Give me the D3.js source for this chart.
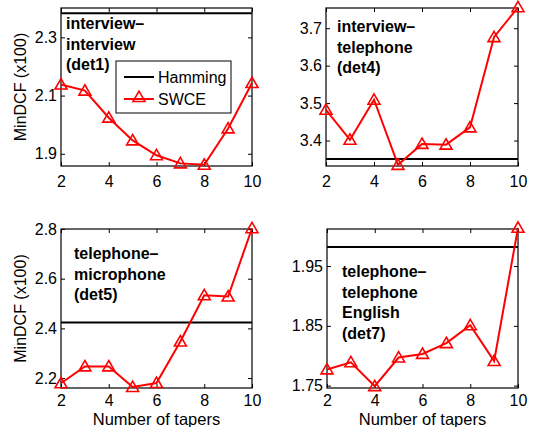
<!DOCTYPE html>
<html><head><meta charset="utf-8">
<script src="https://cdn.jsdelivr.net/npm/d3@7"></script>
<style>body{margin:0;background:#fff}svg{display:block}text{font-family:"Liberation Sans",Arial,sans-serif}</style>
</head><body><svg id="c" width="536" height="427"></svg>
<script>
const tapers = [2,3,4,5,6,7,8,9,10];
const xTicks = [2,4,6,8,10];
const det1 = [2.138,2.117,2.024,1.946,1.895,1.867,1.862,1.987,2.143];
const det4 = [3.482,3.402,3.509,3.335,3.391,3.389,3.435,3.676,3.756];
const det5 = [2.179,2.247,2.247,2.164,2.180,2.347,2.533,2.528,2.803];
const det7 = [1.777,1.789,1.749,1.797,1.803,1.821,1.851,1.791,2.014];
const hamming = [2.383,3.351,2.424,1.982];
const yDomains = [[1.858,2.401],[3.332,3.754],[2.16,2.80],[1.746,2.012]];
const yTicks = [[1.9,2.1,2.3],[3.4,3.5,3.6,3.7],[2.2,2.4,2.6,2.8],[1.75,1.85,1.95]];
const yFormats = [".1f",".1f",".1f",".2f"];
const labels = [["interview\u2013","interview","(det1)"],["interview\u2013","telephone","(det4)"],["telephone\u2013","microphone","(det5)"],["telephone\u2013","telephone","English","(det7)"]];
const series = [det1,det4,det5,det7];
const legendNames = ["Hamming","SWCE"];

const svg = d3.select("#c");
const boxes = [
  {x0:61,x1:252,y0:8,y1:166, tx:66, ty:29, showY:true, showX:false, xpad:9.5},
  {x0:326,x1:518,y0:8,y1:166, tx:337, ty:32, showY:false, showX:false, xpad:9.5},
  {x0:61,x1:252,y0:229,y1:388, tx:74, ty:259, showY:true, showX:true, xpad:6.5},
  {x0:327,x1:518,y0:229,y1:388, tx:342, ty:277, showY:false, showX:true, xpad:6.5}
];
const tri = d3.symbol().type(d3.symbolTriangle).size(62);

boxes.forEach((b,i)=>{
  const x = d3.scaleLinear().domain([2,10]).range([b.x0,b.x1]);
  const y = d3.scaleLinear().domain(yDomains[i]).range([b.y1,b.y0]);
  const g = svg.append("g");
  const ax = g.append("g").attr("transform",`translate(0,${b.y1})`)
    .call(d3.axisBottom(x).tickValues(xTicks).tickSizeInner(-4).tickSizeOuter(0).tickPadding(b.xpad));
  const axT = g.append("g").attr("transform",`translate(0,${b.y0})`)
    .call(d3.axisTop(x).tickValues(xTicks).tickSizeInner(-4).tickSizeOuter(0).tickFormat(""));
  const ay = g.append("g").attr("transform",`translate(${b.x0},0)`)
    .call(d3.axisLeft(y).tickValues(yTicks[i]).tickFormat(d3.format(yFormats[i])).tickSizeInner(-4).tickSizeOuter(0).tickPadding(4));
  const ayR = g.append("g").attr("transform",`translate(${b.x1},0)`)
    .call(d3.axisRight(y).tickValues(yTicks[i]).tickSizeInner(-4).tickSizeOuter(0).tickFormat(""));
  [ax,axT,ay,ayR].forEach(a=>{
    a.select(".domain").remove();
    a.selectAll("line").attr("stroke","#000").attr("stroke-width",1);
    a.selectAll("text").attr("font-size",16).attr("fill","#000").attr("font-family","Liberation Sans, Arial, sans-serif");
  });
  ax.selectAll("text").attr("dy","0.71em");
  g.append("rect").attr("x",b.x0).attr("y",b.y0).attr("width",b.x1-b.x0).attr("height",b.y1-b.y0)
    .attr("fill","none").attr("stroke","#000").attr("stroke-width",1.2);
  g.append("line").attr("x1",b.x0).attr("x2",b.x1).attr("y1",y(hamming[i])).attr("y2",y(hamming[i]))
    .attr("stroke","#000").attr("stroke-width",2);
  const data = tapers.map((t,k)=>[t,series[i][k]]);
  g.append("path").datum(data).attr("fill","none").attr("stroke","#f00").attr("stroke-width",2)
    .attr("d",d3.line().x(d=>x(d[0])).y(d=>y(d[1])));
  g.selectAll(".m").data(data).enter().append("path")
    .attr("transform",d=>`translate(${x(d[0])},${y(d[1])+1})`)
    .attr("d",tri).attr("fill","none").attr("stroke","#f00").attr("stroke-width",1.6);
  labels[i].forEach((s,k)=>{
    g.append("text").attr("x",b.tx).attr("y",b.ty+k*20.5).attr("font-size",16).attr("font-weight","bold").text(s);
  });
  if(b.showX){
    g.append("text").attr("x",(b.x0+b.x1)/2).attr("y",425).attr("text-anchor","middle").attr("font-size",16.5).text("Number of tapers");
  }
  if(b.showY){
    g.append("text").attr("transform",`translate(26,${(b.y0+b.y1)/2}) rotate(-90)`).attr("text-anchor","middle").attr("font-size",16).text("MinDCF (x100)");
  }
});
const lg = svg.append("g");
lg.append("rect").attr("x",116).attr("y",61).attr("width",115).attr("height",52).attr("fill","#fff").attr("stroke","#000").attr("stroke-width",1);
lg.append("line").attr("x1",124).attr("x2",154).attr("y1",77).attr("y2",77).attr("stroke","#000").attr("stroke-width",2);
lg.append("line").attr("x1",124).attr("x2",154).attr("y1",99).attr("y2",99).attr("stroke","#f00").attr("stroke-width",2);
lg.append("path").attr("transform","translate(139,98)").attr("d",tri).attr("fill","none").attr("stroke","#f00").attr("stroke-width",1.6);
lg.append("text").attr("x",158).attr("y",83).attr("font-size",16).text(legendNames[0]);
lg.append("text").attr("x",158).attr("y",105).attr("font-size",16).text(legendNames[1]);
</script></body></html>
